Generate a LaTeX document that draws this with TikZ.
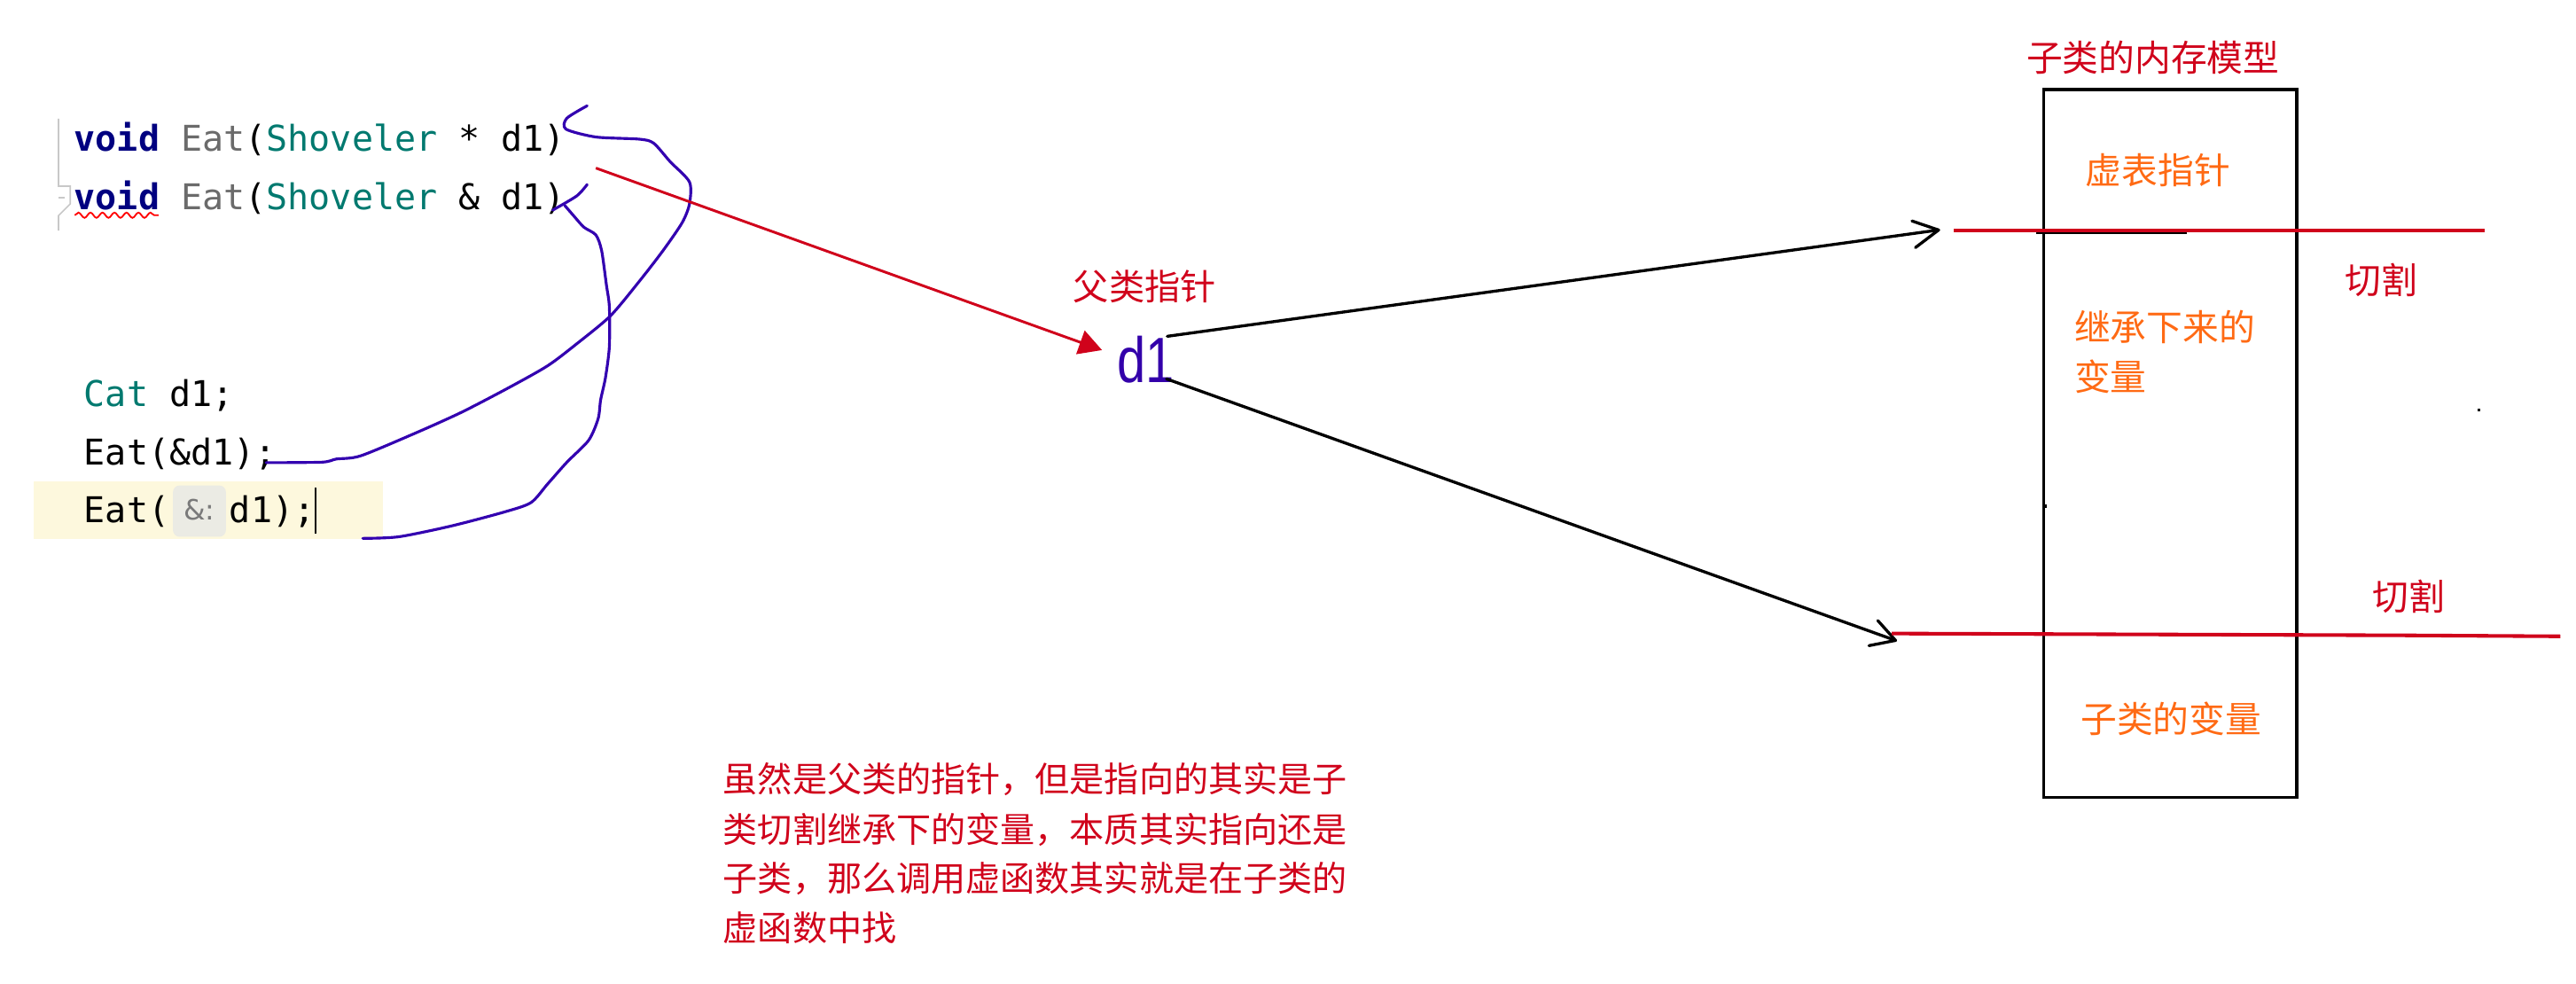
\documentclass[tikz,border=0pt]{standalone}
\usepackage{fontspec}
\newfontfamily\cjk{Noto Sans CJK SC}
\newfontfamily\codefont{DejaVu Sans Mono}
\newfontfamily\hintfont{DejaVu Sans}
\newfontfamily\dfont{Liberation Sans}
\usetikzlibrary{arrows.meta,decorations.pathmorphing}
\definecolor{cutred}{HTML}{D0021B}
\definecolor{memorange}{HTML}{FF6A14}
\definecolor{kwnavy}{HTML}{000080}
\definecolor{fngray}{HTML}{6B6B6B}
\definecolor{clsteal}{HTML}{00796F}
\definecolor{penblue}{HTML}{3300B0}
\definecolor{hlyellow}{HTML}{FDF8DD}
\definecolor{hintbg}{HTML}{EBEBE4}
\definecolor{hintfg}{HTML}{7A7A7A}
\definecolor{guttergray}{HTML}{C8C8C8}
\definecolor{ptrblue}{HTML}{3300AA}
\begin{document}
\begin{tikzpicture}[x=1pt,y=-1pt,
  code/.style={anchor=base west, inner sep=0pt, font=\codefont\fontsize{21.6}{26}\selectfont},
  redlabel/.style={anchor=base, inner sep=0pt, text=cutred, font=\cjk\fontsize{22}{26}\selectfont},
  orangelabel/.style={inner sep=0pt, text=memorange, font=\cjk\fontsize{22}{26}\selectfont},
  notetext/.style={anchor=base west, inner sep=0pt, text=cutred, font=\cjk\fontsize{21.1}{26}\selectfont},
  pen/.style={draw=penblue, line width=1.7pt, line cap=round, line join=round},
  blackpen/.style={draw=black, line width=1.8pt, line cap=round, line join=round},
  cutline/.style={draw=cutred, line width=2.2pt}
]
\useasboundingbox (0,0) rectangle (1568,598.4);

% ---------- code editor ----------
\fill[hlyellow] (20.3,293.2) rectangle (232.9,328.3);
\fill[hintbg, rounded corners=4pt] (105.3,295.5) rectangle (137.5,326.7);

\draw[guttergray, line width=0.9pt] (35.6,72.3) -- (35.6,113.3) -- (42.8,113.3) -- (42.8,124.1) -- (35.6,131.3) -- (35.6,140.3);
\draw[guttergray, line width=0.9pt] (35.6,120.5) -- (39.6,120.5);

\node[code] (l1) at (45,91.8) {{\bfseries\color{kwnavy}void} {\color{fngray}Eat}(\textcolor{clsteal}{Shoveler} * d1)};
\node[code] (l2) at (45,127.7) {{\bfseries\color{kwnavy}void} {\color{fngray}Eat}(\textcolor{clsteal}{Shoveler} \& d1)};
\draw[red, line width=1pt, decorate, decoration={snake, amplitude=1.6pt, segment length=7.3pt}] (45.5,131) -- (96.5,131);

\node[code] (l3) at (51,247.2) {\textcolor{clsteal}{Cat} d1;};
\node[code] (l4) at (51,283.2) {Eat(\&d1);};
\node[code] (l5a) at (51,318.2) {Eat(};
\node[anchor=base, inner sep=0pt, text=hintfg, font=\hintfont\fontsize{17}{20}\selectfont] (hint) at (121.4,316.5) {\&:};
\node[code] (l5b) at (139.5,318.2) {d1);};
\draw[black, line width=1.2pt] (192.1,296.8) -- (192.1,324.7);

% ---------- hand-drawn blue links ----------
\draw[pen] plot[smooth, tension=0.45] coordinates {(357.4,64.4) (345,72) (344.5,78.6) (362.7,83.4) (389,84.7) (397.8,87.1) (408,98.5) (419.7,110.8) (419.7,124) (415.3,135.4) (403.6,152.5) (389,171.4) (371.5,192.3) (351,209.3) (333.4,222.6) (310,235.8) (280.8,251) (251.5,264.2) (219.4,277.5) (204.7,279.4) (196,281.3) (161.9,281.6)};
\draw[pen] plot[smooth, tension=0.45] coordinates {(357.4,112.3) (351,119.3) (336.4,127.9)};
\draw[pen] plot[smooth, tension=0.45] coordinates {(343.7,125) (349.5,131.7) (355.4,138.3) (362.7,143) (366.2,152.5) (369.1,173.3) (370.9,186.6) (370.9,211.2) (368.5,230.1) (365.6,243.4) (364.1,254.8) (358.3,268) (345.1,281.3) (333.4,294.5) (323.2,305.9) (307.1,311.6) (274.9,320.1) (242.8,326.7) (220.8,327.7)};

% ---------- pointer d1 ----------
\node[redlabel, font=\cjk\fontsize{21.7}{26}\selectfont] (plabel) at (696.8,182.8) {父类指针};
\node[anchor=base west, inner sep=0pt, text=ptrblue, font=\dfont\fontsize{39}{44}\selectfont, xscale=0.8] (d1) at (679.7,233) {d1};

\coordinate (codestart) at (362.7,102.3);
\coordinate (d1in) at (670.8,213.1);
\draw[draw=cutred, line width=1.6pt, -{Triangle[length=14pt,width=15pt]}] (codestart) -- (d1in);

\coordinate (d1up) at (710.5,204.7);
\coordinate (d1down) at (710,230.6);
\coordinate (tipup) at (1180,140);
\coordinate (tipdown) at (1153.8,389.8);
\draw[blackpen] (d1up) -- (tipup);
\draw[blackpen] (1163.8,134.5) -- (tipup) -- (1165.9,150.7);
\draw[blackpen] (d1down) -- (tipdown);
\draw[blackpen] (1143,377.7) -- (tipdown) -- (1137.6,393);

% ---------- memory model ----------
\node[redlabel] (title) at (1310.5,43.2) {子类的内存模型};
\node[draw=black, line width=2pt, minimum width=154pt, minimum height=431pt, inner sep=0pt, anchor=north west] (box) at (1243,53.4) {};
\draw[black, line width=1.4pt] (1239.5,141.9) -- (1331,141.9);
\draw[cutline] (1189.3,140.5) -- (1512.3,140.5);
\draw[cutline] (1151.5,385.6) -- (1461.3,386.7) -- (1558.5,387.3);

\node[orangelabel, anchor=base] (vptr) at (1313.5,112.2) {虚表指针};
\node[orangelabel, anchor=base west] (inh1) at (1262.5,207.2) {继承下来的};
\node[orangelabel, anchor=base west] (inh2) at (1262.5,237.5) {变量};
\node[orangelabel, anchor=base] (subv) at (1321.5,446.2) {子类的变量};
\node[redlabel] (cut1) at (1449.5,179) {切割};
\node[redlabel] (cut2) at (1466,371.7) {切割};

\fill[black] (1508.3,248.8) rectangle (1509.8,250.3);
\fill[black] (1244,307) rectangle (1246,309);

% ---------- note ----------
\node[notetext] (n1) at (440,482) {虽然是父类的指针，但是指向的其实是子};
\node[notetext] (n2) at (440,512.6) {类切割继承下的变量，本质其实指向还是};
\node[notetext] (n3) at (440,542.8) {子类，那么调用虚函数其实就是在子类的};
\node[notetext] (n4) at (440,573) {虚函数中找};
\end{tikzpicture}
\end{document}
